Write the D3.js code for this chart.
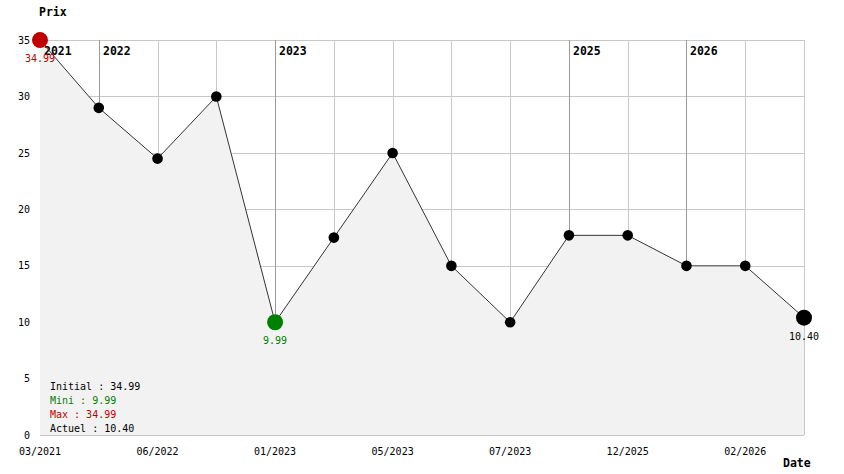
<!DOCTYPE html>
<html><head><meta charset="utf-8">
<script src="https://cdn.jsdelivr.net/npm/d3@7"></script>
<style>body{margin:0;background:#fff}</style>
</head><body>
<svg id="c" width="844" height="474"></svg>
<script>
const dates = ["03/2021","03/2022","06/2022","10/2022","01/2023","03/2023","05/2023","06/2023","07/2023","11/2025","12/2025","01/2026","02/2026","03/2026"];
const prices = [34.99,28.99,24.49,29.99,9.99,17.49,24.99,14.99,9.99,17.69,17.69,14.99,14.99,10.40];
const yTicks = [0,5,10,15,20,25,30,35];
const legendLabels = ["Initial","Mini","Max","Actuel"];

(function () {
const svg = d3.select("#c");
const mono = "'DejaVu Sans Mono', monospace";
const pLeft = 40, pRight = 804, pTop = 40, pBottom = 435;
const idx = d3.range(dates.length);
const x = d3.scalePoint().domain(idx).range([pLeft, pRight]);
const y = d3.scaleLinear().domain([0, 35]).range([pBottom, pTop]);

// y tick labels
const yAxis = d3.axisLeft(y).tickValues(yTicks).tickSize(0).tickPadding(10);
const gy = svg.append("g").attr("transform", `translate(${pLeft},0)`).call(yAxis);
gy.select(".domain").remove();
gy.selectAll("text").attr("font-family", mono).attr("font-size", 10).attr("fill", "#000");

// horizontal grid
svg.append("g").selectAll("line").data(yTicks).join("line")
  .attr("x1", pLeft).attr("x2", pRight).attr("y1", d => Math.round(y(d)) + 0.5).attr("y2", d => Math.round(y(d)) + 0.5)
  .attr("stroke", "#c8c8c8");

// vertical grid, darker at year changes
const yearOf = d => d.split("/")[1];
const isYearStart = i => i === 0 || yearOf(dates[i]) !== yearOf(dates[i - 1]);
svg.append("g").selectAll("line").data(idx.filter(i => i > 0)).join("line")
  .attr("x1", i => Math.round(x(i)) + 0.5).attr("x2", i => Math.round(x(i)) + 0.5)
  .attr("y1", pTop).attr("y2", pBottom)
  .attr("stroke", i => isYearStart(i) ? "#9a9a9a" : "#c8c8c8");

// area
const area = d3.area().x(i => x(i)).y0(y(0)).y1(i => y(prices[i]));
svg.append("path").datum(idx).attr("d", area).attr("fill", "#f2f2f2");

// year labels
svg.append("g").selectAll("text").data(idx.filter(isYearStart)).join("text")
  .attr("x", i => Math.round(x(i)) + 4).attr("y", 55)
  .attr("font-family", mono).attr("font-size", 11.5).attr("font-weight", "bold")
  .text(i => yearOf(dates[i]));

// line
const line = d3.line().x(i => x(i)).y(i => y(prices[i]));
svg.append("path").datum(idx).attr("d", line).attr("fill", "none").attr("stroke", "#333").attr("stroke-width", 1);

// points
const maxV = d3.max(prices), minV = d3.min(prices);
const iMax = prices.indexOf(maxV), iMin = prices.indexOf(minV), iLast = prices.length - 1;
svg.append("g").selectAll("circle").data(idx).join("circle")
  .attr("cx", i => x(i)).attr("cy", i => y(prices[i]))
  .attr("r", i => (i === iMax || i === iMin || i === iLast) ? 8 : 5.3)
  .attr("fill", i => i === iMax ? "#c00000" : i === iMin ? "#008000" : "#000");

// point labels
const lab = [[iMax, "#c00000"], [iMin, "#008000"], [iLast, "#000"]];
svg.append("g").selectAll("text").data(lab).join("text")
  .attr("x", d => x(d[0])).attr("y", d => y(prices[d[0]]) + 22)
  .attr("text-anchor", "middle").attr("font-family", mono).attr("font-size", 10)
  .attr("fill", d => d[1]).text(d => prices[d[0]].toFixed(2));

// x tick labels (every other point)
svg.append("g").selectAll("text").data(idx.filter(i => i % 2 === 0)).join("text")
  .attr("x", i => x(i)).attr("y", 455).attr("text-anchor", "middle")
  .attr("font-family", mono).attr("font-size", 10).text(i => dates[i]);

// axis titles
svg.append("text").attr("x", 39).attr("y", 16).attr("font-family", mono).attr("font-size", 11.5)
  .attr("font-weight", "bold").text("Prix");
svg.append("text").attr("x", 783).attr("y", 467).attr("font-family", mono).attr("font-size", 11.5)
  .attr("font-weight", "bold").text("Date");

// legend
const legVals = [prices[0], minV, maxV, prices[iLast]];
const legCols = ["#000", "#008000", "#c00000", "#000"];
svg.append("g").selectAll("text").data(legendLabels).join("text")
  .attr("x", 50).attr("y", (d, i) => 390 + i * 14)
  .attr("font-family", mono).attr("font-size", 10)
  .attr("fill", (d, i) => legCols[i])
  .text((d, i) => `${d} : ${legVals[i].toFixed(2)}`);
})();
</script>
</body></html>
